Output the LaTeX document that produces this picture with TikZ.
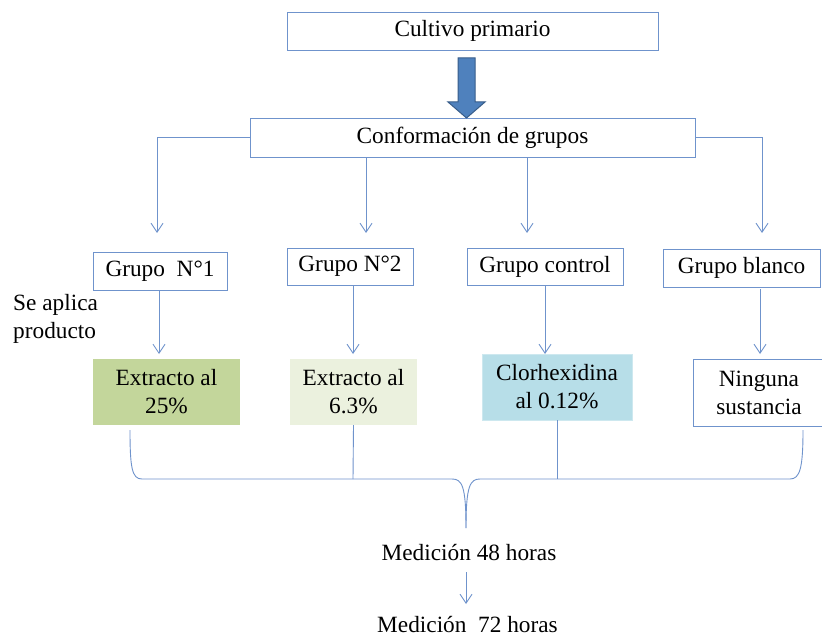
\documentclass[tikz,border=0pt]{standalone}
\usepackage{fontspec}
\setmainfont{Liberation Serif}
\usetikzlibrary{arrows.meta}
\definecolor{lineblue}{HTML}{6F93CC}
\definecolor{arrowfill}{HTML}{4F81BD}
\definecolor{arrowedge}{HTML}{385D8A}
\definecolor{greenA}{HTML}{C3D69B}
\definecolor{greenB}{HTML}{EBF1DE}
\definecolor{cyanA}{HTML}{B7DEE8}
\newcommand{\myfont}{\fontsize{23.3}{28}\selectfont}
\tikzset{
  box/.style={draw=lineblue, line width=0.9pt, inner sep=0pt, align=center, font=\myfont},
  fillbox/.style={inner sep=0pt, align=center, font=\myfont},
  txt/.style={inner sep=0pt, align=left, font=\myfont},
  conn/.style={draw=lineblue, line width=0.9pt, -{Straight Barb[length=9pt,width=12pt,line width=0.9pt]}},
  plain/.style={draw=lineblue, line width=0.9pt},
}
\begin{document}
\begin{tikzpicture}[x=1pt,y=-1pt]
\clip (0,0) rectangle (822,639);
\fill[white] (0,0) rectangle (822,639);
% top boxes
\node[box, minimum width=371pt, minimum height=38pt] (cult) at (472.5,31) {\raisebox{-2pt}{Cultivo primario}};
\node[box, minimum width=445pt, minimum height=39pt] (conf) at (472.5,137.5) {\raisebox{-1.5pt}{Conformación de grupos}};
% big arrow
\draw[fill=arrowfill, draw=arrowedge, line width=1pt] (458,58) -- (475,58) -- (475,102) -- (485,102) -- (466.5,118) -- (448,102) -- (458,102) -- cycle;
% group boxes
\node[box, minimum width=134pt, minimum height=38pt] (g1) at (160,271) {\raisebox{-1.5pt}{Grupo\ \ N°1}};
\node[box, minimum width=126pt, minimum height=37pt] (g2) at (350,266.5) {\raisebox{-1.5pt}{Grupo N°2}};
\node[box, minimum width=156pt, minimum height=37pt] (gc) at (545,266.5) {\raisebox{-1.5pt}{Grupo control}};
\node[box, minimum width=157pt, minimum height=38pt] (gb) at (741.5,268) {\raisebox{-1.5pt}{Grupo blanco}};
% arrow end coordinates
\coordinate (a1) at (157,233);
\coordinate (a2) at (366,233);
\coordinate (a3) at (527,233);
\coordinate (a4) at (762,233);
\draw[conn] (conf.west) -- (157,137.5) -- (a1);
\draw[conn] (conf.south -| a2) -- (a2);
\draw[conn] (conf.south -| a3) -- (a3);
\draw[conn] (conf.east) -- (762,137.5) -- (a4);
% label
\node[txt, anchor=north west] (sap) at (13,294) {Se aplica\\producto};
% product boxes
\node[fillbox, fill=greenA, minimum width=147pt, minimum height=66pt] (p1) at (166.5,392) {Extracto al\\25\%};
\node[fillbox, fill=greenB, minimum width=127pt, minimum height=66pt] (p2) at (353.5,392) {Extracto al\\6.3\%};
\node[fillbox, fill=cyanA, draw=cyanA!70!white, minimum width=150pt, minimum height=66pt] (p3) at (557,387) {Clorhexidina\\al 0.12\%};
\node[box, minimum width=132pt, minimum height=67pt, anchor=west] (p4) at (693,392.5) {\hspace*{-3pt}Ninguna\hspace*{-2pt}\\\hspace*{-3pt}sustancia\hspace*{-2pt}};
% arrows to products
\coordinate (b1) at (159,354);
\coordinate (b2) at (353,354);
\coordinate (b3) at (545,354);
\coordinate (b4) at (760,354);
\draw[conn] (g1.south -| b1) -- (b1);
\draw[conn] (g2.south -| b2) -- (b2);
\draw[conn] (gc.south -| b3) -- (b3);
\draw[conn] (760,289) -- (b4);
% brace
\coordinate (cusp) at (466,528);
\draw[plain] (130,430) .. controls (130,468) and (132,479) .. (142,479) -- (452,479)
  .. controls (462,479) and (466,486) .. (cusp);
\draw[plain] (cusp) .. controls (466,486) and (470,479) .. (480,479) -- (790,479)
  .. controls (800,479) and (803,468) .. (803,430);
\draw[plain] (p2.south) -- (353,479);
\draw[plain] (p3.south) -- (557,479);
% measurements
\node[txt] (m48) at (469,553) {Medición 48 horas};
\node[txt] (m72) at (467.5,625) {Medición\ \ 72 horas};
\draw[conn] (466,572) -- (466,604);
\end{tikzpicture}
\end{document}
